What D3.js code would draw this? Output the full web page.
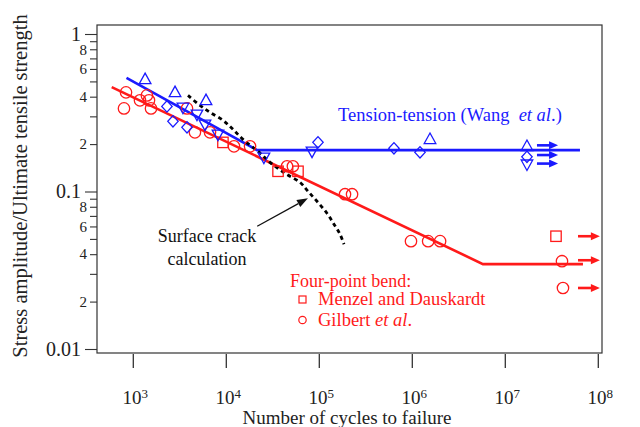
<!DOCTYPE html>
<html><head><meta charset="utf-8">
<script src="https://cdn.jsdelivr.net/npm/d3@7"></script>
<style>
body{margin:0;background:#fff;}
svg{display:block;font-family:"Liberation Serif","Times New Roman",serif;}
</style></head><body>
<svg id="chart" width="640" height="427"></svg>
<script>
// ---------- data ----------
const xTickValues = [1e3, 1e4, 1e5, 1e6, 1e7, 1e8];
const yMajorTicks = [1, 0.1, 0.01];
const yMajorLabels = ["1", "0.1", "0.01"];
const yMinorTicks = [0.9,0.8,0.7,0.6,0.5,0.4,0.3,0.2,0.09,0.08,0.07,0.06,0.05,0.04,0.03,0.02];
const yMinorLabelled = [0.8,0.6,0.4,0.2,0.08,0.06,0.04,0.02];

// Four-point bend, Gilbert et al. (circles)
const gilbertN = [835, 794, 1180, 1400, 1475, 1550, 3780, 4600, 6680, 12100, 18000, 45000, 52000, 189000, 225000, 968000, 1.48e6, 1.99e6, 4.07e7, 4.17e7];
const gilbertS = [0.426, 0.337, 0.379, 0.4075, 0.379, 0.337, 0.337, 0.2375, 0.2375, 0.1935, 0.1935, 0.1446, 0.1446, 0.0961, 0.0961, 0.0484, 0.0484, 0.0484, 0.0361, 0.0244];
// Four-point bend, Menzel and Dauskardt (squares)
const menzelN = [9200, 36000, 59000, 3.51e7];
const menzelS = [0.205, 0.1344, 0.1344, 0.052];
// Tension-tension (Wang et al.)
const wangUpN = [1340, 2810, 6050, 1.55e6, 1.71e7];
const wangUpS = [0.515, 0.426, 0.379, 0.2144, 0.1935];
const wangDownN = [3420, 4840, 5900, 8140, 25400, 83500, 1.71e7];
const wangDownS = [0.342, 0.309, 0.267, 0.2306, 0.165, 0.18, 0.149];
const wangDiamondN = [2300, 2670, 3780, 96800, 635000, 1.21e6, 1.71e7];
const wangDiamondS = [0.347, 0.279, 0.2555, 0.2052, 0.188, 0.1773, 0.166];
// fitted lines
const tensionFitN = [845, 21400, 6.35e7];
const tensionFitS = [0.526, 0.183, 0.183];
const bendFitN = [586, 5.75e6, 6.84e7];
const bendFitS = [0.46, 0.0346, 0.0346];
// surface crack calculation
const crackN = [3874, 5210, 6680, 9210, 11800, 15100, 21900, 29500, 42800, 62000, 75500, 94400, 120800, 143800, 166800, 184200];
const crackS = [0.4075, 0.352, 0.318, 0.283, 0.248, 0.2144, 0.18, 0.1532, 0.1305, 0.1144, 0.1004, 0.0867, 0.0728, 0.062, 0.0536, 0.0463];
// run-out arrows
const tensionRunoutS = [0.1964, 0.1704, 0.1504];
const tensionRunoutN = [2.19e7, 3.69e7];
const bendRunoutS = [0.052, 0.0366, 0.0244];
const bendRunoutN = [6.05e7, 1.04e8];
// annotation arrow (tail, tip)
const crackArrowN = [21500, 75500];
const crackArrowS = [0.0602, 0.0906];

// ---------- layout ----------
const frame = {left: 97, right: 602, top: 25, bottom: 353};
const RED = "#ff1a1a", BLUE = "#1a1aff", INK = "#222";

const svg = d3.select("#chart");
const x = d3.scaleLog().domain([1e3, 1e8]).range([133.3, 598.3]);
const y = d3.scaleLog().domain([0.01, 1]).range([349, 34]);

// frame
svg.append("rect").attr("x", frame.left).attr("y", frame.top)
  .attr("width", frame.right - frame.left).attr("height", frame.bottom - frame.top)
  .attr("fill", "none").attr("stroke", "#333").attr("stroke-width", 1.2);

// y axis minor
const yMinor = svg.append("g").attr("transform", `translate(${frame.left},0)`)
  .call(d3.axisLeft(y).tickValues(yMinorTicks).tickSize(7).tickPadding(3)
    .tickFormat(d => yMinorLabelled.some(v => Math.abs(v - d) < 1e-9) ? String(Math.round(d / Math.pow(10, Math.floor(Math.log10(d) + 1e-9)))) : ""));
yMinor.select(".domain").remove();
yMinor.selectAll("line").attr("stroke", "#333").attr("stroke-width", 1.1);
yMinor.selectAll("text").attr("font-size", 15).attr("fill", INK).attr("font-family", "Liberation Serif");

const yMajor = svg.append("g").attr("transform", `translate(${frame.left},0)`)
  .call(d3.axisLeft(y).tickValues(yMajorTicks).tickSize(12).tickPadding(4)
    .tickFormat((d, i) => yMajorLabels[i]));
yMajor.select(".domain").remove();
yMajor.selectAll("line").attr("stroke", "#333").attr("stroke-width", 1.1);
yMajor.selectAll("text").attr("font-size", 20).attr("fill", INK).attr("font-family", "Liberation Serif");

// x axis (ticks hang below the frame)
const xAxis = svg.append("g").attr("class", "xaxis");
xAxis.selectAll("line").data(xTickValues).join("line")
  .attr("x1", d => x(d)).attr("x2", d => x(d))
  .attr("y1", frame.bottom + 1).attr("y2", frame.bottom + 15)
  .attr("stroke", "#333").attr("stroke-width", 1.3);
xAxis.selectAll("text").data(xTickValues).join("text")
  .attr("x", d => x(d) + 2).attr("y", frame.bottom + 51)
  .attr("text-anchor", "middle").attr("fill", INK).attr("font-size", 19)
  .each(function(d) {
    const t = d3.select(this);
    t.append("tspan").text("10");
    t.append("tspan").attr("dy", "-0.5em").attr("font-size", 13).text(Math.round(Math.log10(d)));
  });

// axis titles
svg.append("text").attr("transform", `translate(27,186) rotate(-90)`)
  .attr("text-anchor", "middle").attr("font-size", 20.5).attr("fill", INK)
  .text("Stress amplitude/Ultimate tensile strength");
svg.append("text").attr("x", 347).attr("y", 424).attr("text-anchor", "middle")
  .attr("font-size", 19).attr("fill", INK).text("Number of cycles to failure");

// lines
const line = d3.line().x(d => x(d[0])).y(d => y(d[1]));
svg.append("path").datum(tensionFitN.map((n, i) => [n, tensionFitS[i]]))
  .attr("d", line).attr("fill", "none").attr("stroke", BLUE).attr("stroke-width", 2.6);
svg.append("path").datum(bendFitN.map((n, i) => [n, bendFitS[i]]))
  .attr("d", line).attr("fill", "none").attr("stroke", RED).attr("stroke-width", 2.6);
const curveLine = d3.line().x(d => x(d[0])).y(d => y(d[1])).curve(d3.curveCatmullRom);
svg.append("path").datum(crackN.map((n, i) => [n, crackS[i]]))
  .attr("d", curveLine).attr("fill", "none").attr("stroke", "#000")
  .attr("stroke-width", 2.8).attr("stroke-dasharray", "4,3.5");

// markers
const mk = svg.append("g").attr("fill", "none").attr("stroke-width", 1.3);
mk.append("g").selectAll("circle").data(gilbertN.map((n, i) => [n, gilbertS[i]])).join("circle")
  .attr("cx", d => x(d[0])).attr("cy", d => y(d[1])).attr("r", 5.7).attr("stroke", RED).attr("fill", "none");
mk.append("g").selectAll("rect").data(menzelN.map((n, i) => [n, menzelS[i]])).join("rect")
  .attr("x", d => x(d[0]) - 5.2).attr("y", d => y(d[1]) - 5.2).attr("width", 10.4).attr("height", 10.4)
  .attr("stroke", RED).attr("fill", "none");
const triUp = "M0,-6.3L5.8,4.2L-5.8,4.2Z", triDown = "M0,6.3L5.8,-4.2L-5.8,-4.2Z", diamond = "M0,-5.7L5.2,0L0,5.7L-5.2,0Z";
function sym(N, S, p) {
  mk.append("g").selectAll("path").data(N.map((n, i) => [n, S[i]])).join("path")
    .attr("transform", d => `translate(${x(d[0])},${y(d[1])})`).attr("d", p)
    .attr("stroke", BLUE).attr("fill", "none");
}
sym(wangUpN, wangUpS, triUp);
sym(wangDownN, wangDownS, triDown);
sym(wangDiamondN, wangDiamondS, diamond);

// run-out arrows
function runouts(S, N, color) {
  S.forEach(s => {
    const x0 = x(N[0]), x1 = x(N[1]), yy = y(s);
    svg.append("line").attr("x1", x0).attr("x2", x1 - 6).attr("y1", yy).attr("y2", yy)
      .attr("stroke", color).attr("stroke-width", 2.6);
    svg.append("path").attr("d", `M${x1},${yy}L${x1 - 9},${yy - 4}L${x1 - 9},${yy + 4}Z`).attr("fill", color);
  });
}
runouts(tensionRunoutS, tensionRunoutN, BLUE);
runouts(bendRunoutS, bendRunoutN, RED);

// annotation arrow
{
  const x0 = x(crackArrowN[0]), y0 = y(crackArrowS[0]), x1 = x(crackArrowN[1]), y1 = y(crackArrowS[1]);
  const ang = Math.atan2(y1 - y0, x1 - x0), L = 11, Wd = 4;
  const bx = x1 - L * Math.cos(ang), by = y1 - L * Math.sin(ang);
  svg.append("line").attr("x1", x0).attr("y1", y0).attr("x2", bx).attr("y2", by)
    .attr("stroke", "#111").attr("stroke-width", 1.3);
  svg.append("path").attr("d", `M${x1},${y1}L${bx + Wd * Math.sin(ang)},${by - Wd * Math.cos(ang)}L${bx - Wd * Math.sin(ang)},${by + Wd * Math.cos(ang)}Z`)
    .attr("fill", "#111");
}

// labels
svg.append("text").attr("x", 207).attr("y", 242).attr("text-anchor", "middle").attr("font-size", 18)
  .attr("fill", "#111").text("Surface crack");
svg.append("text").attr("x", 207).attr("y", 265).attr("text-anchor", "middle").attr("font-size", 18)
  .attr("fill", "#111").text("calculation");

const tt = svg.append("text").attr("x", 338).attr("y", 121).attr("font-size", 18.5).attr("fill", BLUE)
  .style("white-space", "pre");
tt.append("tspan").text("Tension-tension (Wang  ");
tt.append("tspan").attr("font-style", "italic").text("et al");
tt.append("tspan").text(".)");

svg.append("text").attr("x", 290).attr("y", 287).attr("font-size", 18).attr("fill", RED).text("Four-point bend:");
svg.append("text").attr("x", 318).attr("y", 305).attr("font-size", 18.5).attr("fill", RED).text("Menzel and Dauskardt");
const gt = svg.append("text").attr("x", 318).attr("y", 326).attr("font-size", 18.5).attr("fill", RED);
gt.append("tspan").text("Gilbert ");
gt.append("tspan").attr("font-style", "italic").text("et al");
gt.append("tspan").text(".");
svg.append("rect").attr("x", 299).attr("y", 296).attr("width", 7).attr("height", 7)
  .attr("fill", "none").attr("stroke", RED).attr("stroke-width", 1.2);
svg.append("circle").attr("cx", 302.5).attr("cy", 320).attr("r", 3.7)
  .attr("fill", "none").attr("stroke", RED).attr("stroke-width", 1.2);
</script>
</body></html>
